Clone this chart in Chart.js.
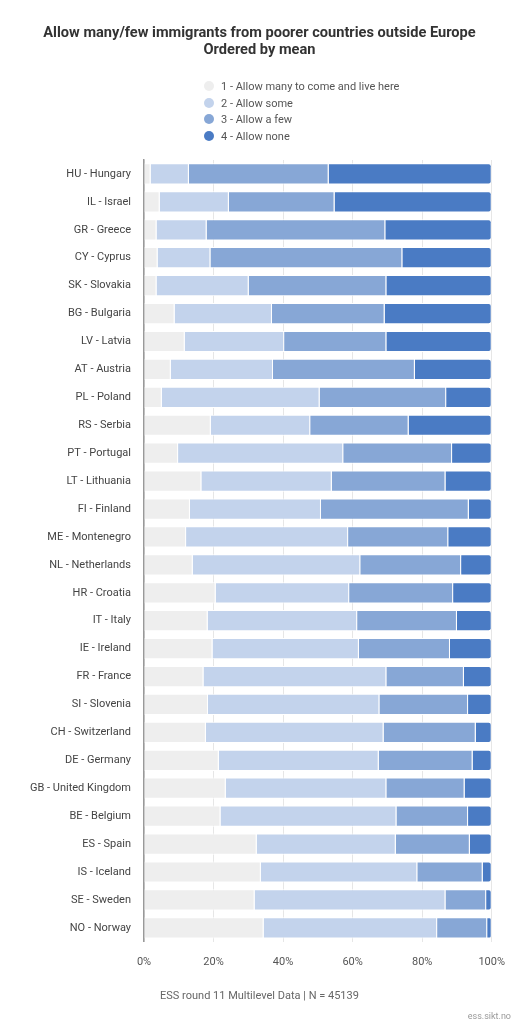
<!DOCTYPE html>
<html>
<head>
<meta charset="utf-8">
<script src="https://cdn.jsdelivr.net/npm/chart.js@4.4.1/dist/chart.umd.min.js"></script>
<style>
    body { margin: 0; background: #fff; font-family: Roboto, "Noto Sans", sans-serif; }
    #wrap { position: relative; width: 519px; height: 1024px; }
    #title { position: absolute; left: 0; top: 24px; width: 519px; text-align: center; font-size: 14.6px; font-weight: bold; line-height: 16.5px; color: #333; }
    #legend { position: absolute; left: 204px; top: 79px; font-size: 11px; color: #555; }
    #legend div { height: 16.5px; line-height: 16.5px; white-space: nowrap; }
    #legend span { display: inline-block; width: 10px; height: 10px; border-radius: 50%; margin-right: 7px; vertical-align: -1px; }
    #footer { position: absolute; left: 0; top: 989px; width: 519px; text-align: center; font-size: 11px; color: #666; }
    #credit { position: absolute; right: 8px; top: 1011px; font-size: 9px; color: #999; }
</style>
</head>
<body>
<div id="wrap">
    <canvas id="chart"></canvas>
    <div id="title">Allow many/few immigrants from poorer countries outside Europe<br>Ordered by mean</div>
    <div id="legend"></div>
    <div id="footer">ESS round 11 Multilevel Data | N = 45139</div>
    <div id="credit">ess.sikt.no</div>
</div>
<script>
const countries = [
    'HU - Hungary', 'IL - Israel', 'GR - Greece', 'CY - Cyprus', 'SK - Slovakia',
    'BG - Bulgaria', 'LV - Latvia', 'AT - Austria', 'PL - Poland', 'RS - Serbia',
    'PT - Portugal', 'LT - Lithuania', 'FI - Finland', 'ME - Montenegro', 'NL - Netherlands',
    'HR - Croatia', 'IT - Italy', 'IE - Ireland', 'FR - France', 'SI - Slovenia',
    'CH - Switzerland', 'DE - Germany', 'GB - United Kingdom', 'BE - Belgium', 'ES - Spain',
    'IS - Iceland', 'SE - Sweden', 'NO - Norway'
];

const seriesNames = [
    '1 - Allow many to come and live here',
    '2 - Allow some',
    '3 - Allow a few',
    '4 - Allow none'
];

// percentages per country, same order as countries
const allowMany = [1.9, 4.5, 3.6, 3.9, 3.6, 8.8, 11.7, 7.7, 5.1, 19.2, 9.8, 16.5, 13.2, 12.1, 14.0, 20.6, 18.3, 19.7, 17.1, 18.4, 17.8, 21.5, 23.5, 22.0, 32.4, 33.6, 31.8, 34.4];
const allowSome = [11.0, 19.9, 14.4, 15.2, 26.5, 28.0, 28.6, 29.4, 45.4, 28.6, 47.5, 37.5, 37.7, 46.6, 48.2, 38.4, 43.0, 42.1, 52.6, 49.3, 51.1, 46.0, 46.2, 50.6, 40.0, 45.0, 54.9, 49.9];
const allowFew = [40.2, 30.4, 51.4, 55.2, 39.6, 32.4, 29.4, 40.8, 36.4, 28.3, 31.3, 32.7, 42.5, 28.8, 29.0, 29.9, 28.7, 26.2, 22.3, 25.5, 26.5, 27.0, 22.5, 20.6, 21.3, 18.8, 11.7, 14.4];
const allowNone = [46.9, 45.2, 30.6, 25.7, 30.3, 30.8, 30.3, 22.1, 13.1, 23.9, 11.4, 13.3, 6.6, 12.5, 8.8, 11.1, 10.0, 12.0, 8.0, 6.8, 4.6, 5.5, 7.8, 6.8, 6.3, 2.6, 1.6, 1.3];

const tickValues = [0, 20, 40, 60, 80, 100];

const colors = ['#eeeeee', '#c3d3ec', '#87a7d6', '#4a7bc4'];
const values = [allowMany, allowSome, allowFew, allowNone];

const datasets = seriesNames.map((name, i) => ({
    label: name,
    data: values[i],
    backgroundColor: colors[i],
    borderColor: '#ffffff',
    borderWidth: 1,
    borderRadius: 3,
    barPercentage: 0.76,
    categoryPercentage: 1
}));

// legend as a vertical list
const legend = document.getElementById('legend');
seriesNames.forEach((name, i) => {
    legend.innerHTML += `<div><span style="background:${colors[i]}"></span>${name}</div>`;
});

const ctx = document.getElementById('chart').getContext('2d');
new Chart(ctx, {
    type: 'bar',
    data: { labels: countries, datasets: datasets },
    options: {
        indexAxis: 'y',
        responsive: true,
        maintainAspectRatio: false,
        animation: false,
        layout: { padding: { top: 160, left: 0, right: 26, bottom: 41 } },
        plugins: {
            legend: { display: false },
            tooltip: { enabled: false }
        },
        scales: {
            x: {
                stacked: true,
                min: 0,
                max: 100,
                afterBuildTicks: (scale) => {
                    scale.ticks = tickValues.map(v => ({ value: v }));
                },
                ticks: {
                    callback: (v) => v + '%',
                    color: '#555',
                    font: { family: 'Roboto', size: 11 },
                    padding: 14,
                    maxRotation: 0
                },
                grid: { color: '#e6e6e6', drawTicks: false },
                border: { display: false }
            },
            y: {
                stacked: true,
                afterFit: (scale) => { scale.width = 144; },
                ticks: {
                    color: '#444',
                    font: { family: 'Roboto', size: 11 },
                    padding: 5
                },
                grid: { display: false },
                border: { display: true, color: '#999', width: 1.5 }
            }
        }
    }
});
</script>
</body>
</html>
